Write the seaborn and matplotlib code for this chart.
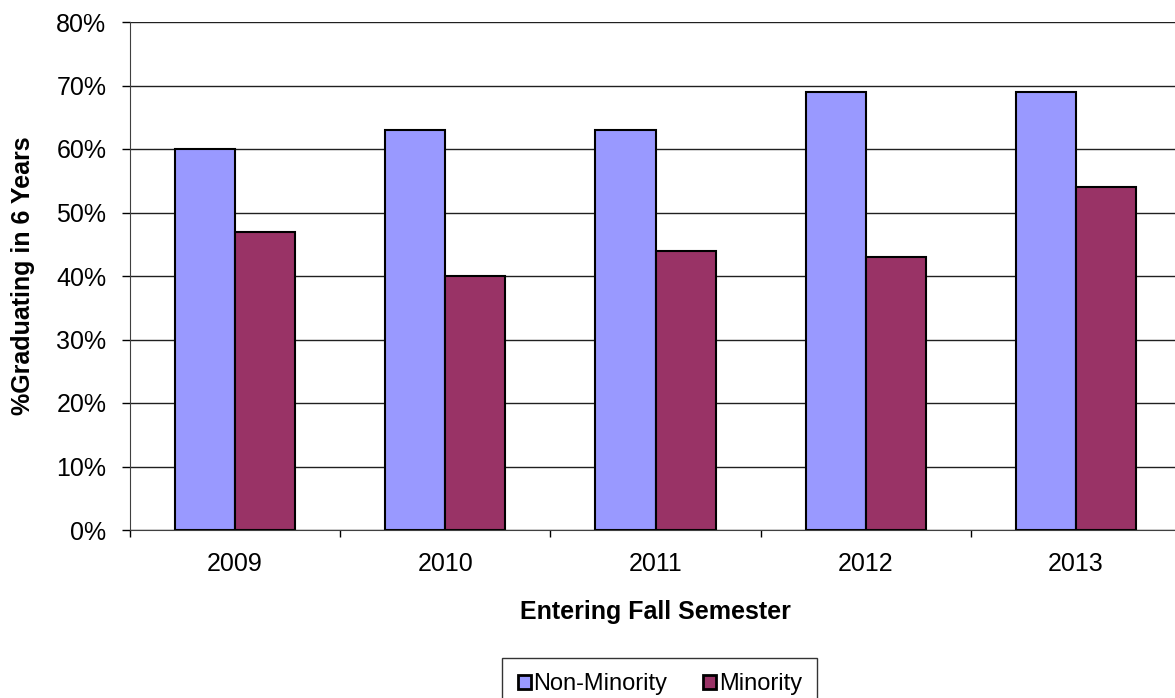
import pandas as pd
import matplotlib.pyplot as plt
import seaborn as sns
from matplotlib.ticker import PercentFormatter

# Six-year graduation rates by entering fall cohort
years = ['2009', '2010', '2011', '2012', '2013']
non_minority = [0.60, 0.63, 0.63, 0.69, 0.69]
minority = [0.47, 0.40, 0.44, 0.43, 0.54]
groups = ['Non-Minority', 'Minority']
colors = ['#9999FF', '#993366']

df = pd.DataFrame({
    'year': years * 2,
    'rate': non_minority + minority,
    'group': [groups[0]] * len(years) + [groups[1]] * len(years),
})

sns.set_style('white')
plt.rcParams['font.family'] = ['Liberation Sans', 'DejaVu Sans']
plt.rcParams['text.color'] = 'black'
plt.rcParams['axes.labelcolor'] = 'black'
plt.rcParams['xtick.color'] = 'black'
plt.rcParams['ytick.color'] = 'black'

fig = plt.figure(figsize=(11.75, 6.98), dpi=100)
ax = fig.add_axes([130 / 1175, 1 - 530 / 698, 1051 / 1175, 508 / 698])

sns.barplot(data=df, x='year', y='rate', hue='group', palette=colors, saturation=1,
            width=0.571, edgecolor='black', linewidth=1.5, ax=ax, legend=True)

ax.set_xlim(-0.5, 4.5)
ax.set_ylim(0, 0.8)
ax.set_yticks([i / 10 for i in range(9)])
ax.yaxis.set_major_formatter(PercentFormatter(1.0, decimals=0))
ax.grid(axis='y', color='#202020', linewidth=1.0)
ax.set_axisbelow(True)

# category boundaries carry the x tick marks
ax.set_xticks([i - 0.5 for i in range(6)], minor=False)
ax.set_xticklabels([])
ax.set_xticks(range(5), minor=True)
ax.set_xticklabels(years, minor=True)
ax.tick_params(axis='x', which='major', direction='out', length=5, width=1, bottom=True)
ax.tick_params(axis='x', which='minor', length=0, labelsize=18, pad=16)
ax.tick_params(axis='y', direction='out', length=6, width=1, left=True, labelsize=18, pad=11)

for side in ['top', 'right']:
    ax.spines[side].set_visible(False)
ax.spines['left'].set_color('#404040')
ax.spines['bottom'].set_color('#404040')

ax.set_xlabel('Entering Fall Semester', fontsize=18, fontweight='bold', labelpad=17)
ax.set_ylabel('%Graduating in 6 Years', fontsize=18, fontweight='bold', labelpad=15)

handles, labels = ax.get_legend_handles_labels()
leg = ax.legend(handles, labels, loc='upper center', bbox_to_anchor=(0.504, -0.252),
                ncol=2, frameon=True, fontsize=17, handlelength=0.55, handleheight=0.55,
                handletextpad=0.12, columnspacing=1.5, borderpad=0.65, borderaxespad=0,
                fancybox=False)
leg.get_frame().set_edgecolor('black')
leg.get_frame().set_linewidth(1.0)
for h in leg.legend_handles:
    h.set_edgecolor('black')
    h.set_linewidth(2)

fig.savefig('out.png', dpi=100)
